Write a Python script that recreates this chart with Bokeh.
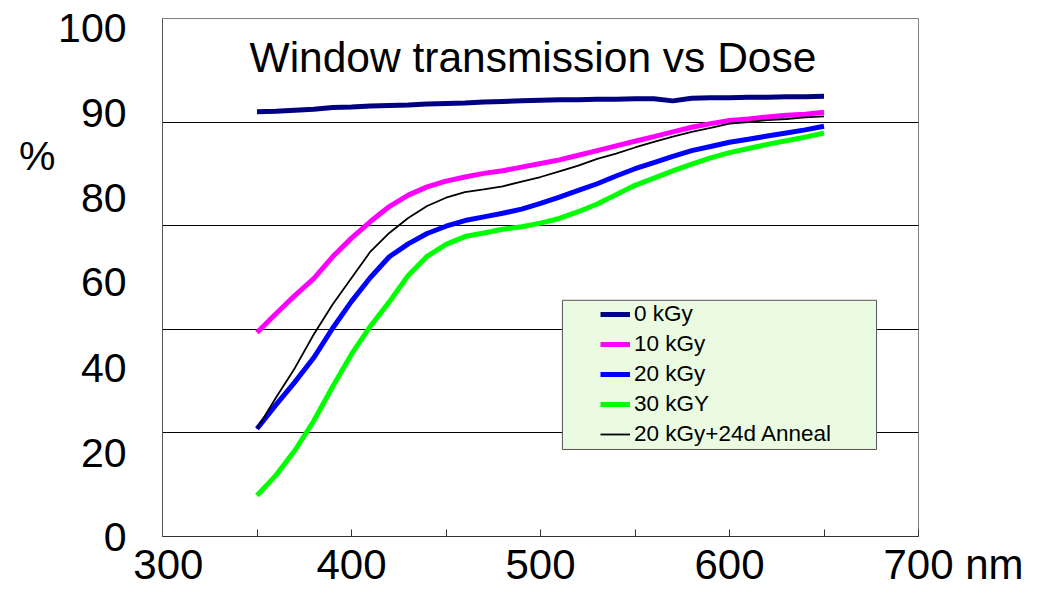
from bokeh.plotting import figure
from bokeh.models import Range1d, FixedTicker, Label, Legend, LegendItem, LinearAxis
from bokeh.embed import file_html
from bokeh.resources import INLINE

# ---------------- data ----------------
wavelength = [350, 360, 370, 380, 390, 400, 410, 420, 430, 440, 450, 460, 470, 480, 490, 500,
              510, 520, 530, 540, 550, 560, 570, 580, 590, 600, 610, 620, 630, 640, 650]

t_0kgy = [82.0, 82.1, 82.3, 82.5, 82.8, 82.9, 83.1, 83.2, 83.3, 83.5, 83.6, 83.7, 83.9, 84.0, 84.1, 84.2,
          84.3, 84.3, 84.4, 84.4, 84.5, 84.5, 84.1, 84.6, 84.7, 84.7, 84.8, 84.8, 84.9, 84.9, 85.0]
t_10kgy = [39.4, 43.0, 46.5, 49.8, 54.0, 57.6, 60.8, 63.7, 65.9, 67.5, 68.6, 69.4, 70.1, 70.6, 71.3, 72.0,
           72.7, 73.6, 74.5, 75.4, 76.3, 77.2, 78.1, 79.0, 79.7, 80.3, 80.6, 81.0, 81.3, 81.5, 81.9]
t_20kgy = [20.8, 25.4, 29.8, 34.5, 40.2, 45.4, 50.0, 54.0, 56.5, 58.5, 59.9, 61.0, 61.7, 62.4, 63.2, 64.3,
           65.5, 66.8, 68.1, 69.6, 71.0, 72.2, 73.4, 74.5, 75.3, 76.1, 76.7, 77.3, 77.9, 78.5, 79.2]
t_30kgy = [7.9, 11.8, 16.6, 22.3, 28.9, 35.2, 40.6, 45.3, 50.4, 54.1, 56.4, 57.9, 58.6, 59.3, 59.8, 60.5,
           61.4, 62.7, 64.2, 66.0, 67.8, 69.2, 70.6, 71.9, 73.1, 74.1, 74.9, 75.7, 76.4, 77.1, 77.9]
t_20kgy_anneal = [20.8, 26.8, 32.5, 39.0, 44.8, 49.9, 55.0, 58.6, 61.5, 63.8, 65.4, 66.5, 67.0, 67.6, 68.5, 69.4,
                  70.5, 71.6, 72.9, 73.9, 75.1, 76.2, 77.2, 78.1, 78.9, 79.7, 80.0, 80.4, 80.6, 80.9, 81.1]

series_names = ["0 kGy", "10 kGy", "20 kGy", "30 kGY", "20 kGy+24d Anneal"]
series_colors = ["#000080", "#ff00ff", "#0000ff", "#00ff00", "#000000"]

x_ticks = [300, 400, 500, 600, 700]
x_minor_ticks = [350, 450, 550, 650]
NB = "\u00a0"
x_tick_labels = [NB + "300", "400", "500", "600", NB * 6 + "700 nm"]
y_tick_positions = [0, 16.2, 32.6, 49.2, 65.4, 81.8, 98.1]
y_tick_labels = ["0", "20", "40", "60", "80", "90", "100"]
y_grid_values = [20, 40, 60, 80]
y_unit_position = [73.4]
y_unit_label = ["%"]

title_text = "Window transmission vs Dose"
FONT = "Liberation Sans"

# ---------------- figure ----------------
p = figure(width=1054, height=590, output_backend="svg", toolbar_location=None,
           x_range=Range1d(300, 700), y_range=Range1d(0, 100),
           min_border_left=162, min_border_right=136, min_border_top=18, min_border_bottom=54)
p.background_fill_color = "white"
p.border_fill_color = "white"
p.outline_line_color = "#808080"
p.outline_line_width = 1

# grid
p.xgrid.visible = False
p.ygrid.ticker = FixedTicker(ticks=y_grid_values)
p.ygrid.grid_line_color = "black"
p.ygrid.grid_line_width = 1

# x axis
xa = p.xaxis[0]
xa.ticker = FixedTicker(ticks=x_ticks, minor_ticks=x_minor_ticks)
xa.major_label_overrides = {t: l for t, l in zip(x_ticks, x_tick_labels)}
xa.axis_line_color = "#333333"
xa.major_tick_line_color = "#333333"
xa.minor_tick_line_color = "#333333"
xa.major_tick_in = 7
xa.major_tick_out = 0
xa.minor_tick_in = 7
xa.minor_tick_out = 0
xa.major_label_standoff = 4
xa.major_label_text_font = FONT
xa.major_label_text_font_size = "42px"
xa.major_label_text_color = "black"

# y axis
ya = p.yaxis[0]
ya.ticker = FixedTicker(ticks=y_tick_positions, minor_ticks=[])
ya.major_label_overrides = {t: l for t, l in zip(y_tick_positions, y_tick_labels)}
ya.axis_line_color = "#555555"
ya.major_tick_line_color = None
ya.minor_tick_line_color = None
ya.major_tick_in = 0
ya.major_tick_out = 0
ya.major_label_standoff = 36
ya.major_label_text_font = FONT
ya.major_label_text_font_size = "41px"
ya.major_label_text_color = "black"

# outer left axis carrying only the unit "%"
ua = LinearAxis(ticker=FixedTicker(ticks=y_unit_position, minor_ticks=[]),
                major_label_overrides={t: l for t, l in zip(y_unit_position, y_unit_label)},
                axis_line_color=None, major_tick_line_color=None, minor_tick_line_color=None,
                major_tick_in=0, major_tick_out=0, major_label_standoff=0,
                major_label_text_font=FONT, major_label_text_font_size="41px",
                major_label_text_color="black")
p.add_layout(ua, "left")

# legend box (drawn behind the legend entries)
p.quad(left=511.6, right=677.8, bottom=16.8, top=45.6,
       fill_color="#eafbe2", line_color="#555555", line_width=1)

# series
series_values = [t_0kgy, t_10kgy, t_20kgy, t_30kgy, t_20kgy_anneal]
items = []
for name, color, vals in zip(series_names, series_colors, series_values):
    lw = 1.8 if name.endswith("Anneal") else 5
    r = p.line(wavelength, vals, line_color=color, line_width=lw)
    items.append(LegendItem(label=name, renderers=[r]))

legend = Legend(items=items, location=(438, 87), orientation="vertical",
                glyph_width=30, glyph_height=30, label_height=30, spacing=0,
                padding=0, margin=0, label_standoff=4,
                background_fill_alpha=0, border_line_color=None,
                label_text_font=FONT, label_text_font_size="22.5px", label_text_color="black")
p.add_layout(legend)

# title inside the plot area
p.add_layout(Label(x=496.0, y=92.5, text=title_text, text_align="center",
                   text_baseline="alphabetic", text_font=FONT, text_font_size="42.5px",
                   text_color="black"))

open("out.html", "w").write(file_html(p, INLINE))
